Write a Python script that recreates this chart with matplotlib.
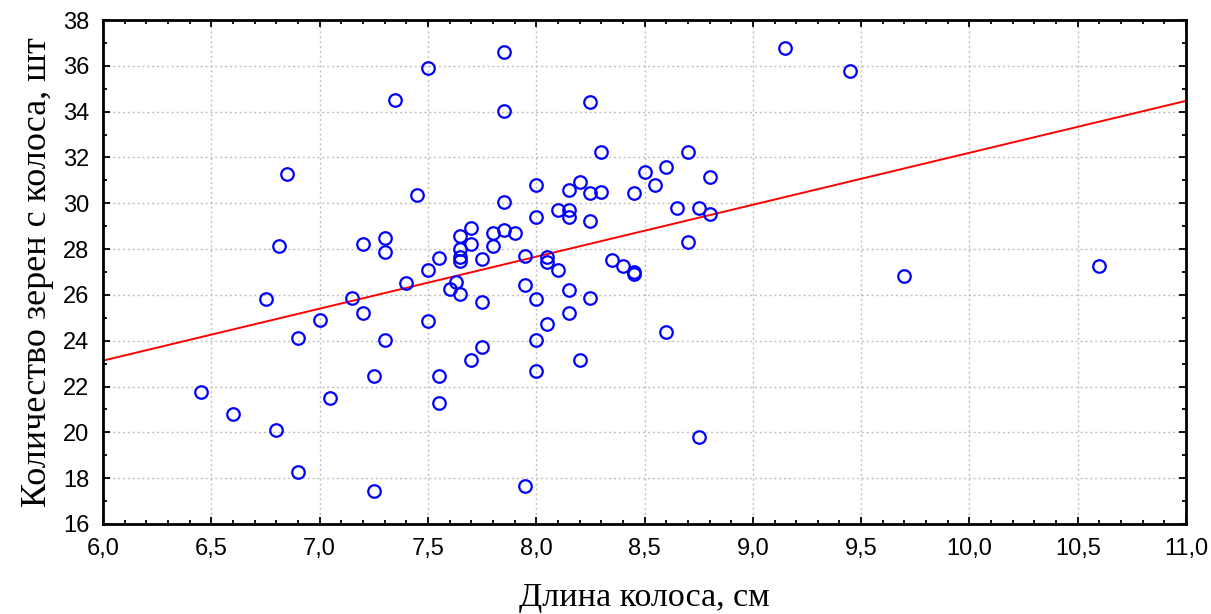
import numpy as np
import matplotlib
matplotlib.use("Agg")
import matplotlib.pyplot as plt
from matplotlib.ticker import MultipleLocator

# spike length (cm) and grains per spike
dlina = [7.50, 7.35, 6.85, 7.45, 6.81, 7.20, 7.30, 7.30, 7.65, 7.70,
         7.70, 7.65, 7.65, 7.65, 7.55, 7.75, 7.50, 7.40, 7.63, 7.60,
         7.65, 7.75, 6.75, 7.15, 7.20, 7.00, 7.50, 6.90, 7.30, 7.75,
         7.70, 7.25, 7.55, 6.45, 7.05, 7.55, 6.60, 6.80, 6.90, 7.25,
         7.85, 7.85, 9.15, 8.25, 8.30, 8.70, 8.50, 8.60, 8.80, 8.20,
         8.00, 8.55, 8.15, 8.25, 8.30, 8.45, 7.85, 8.00, 8.10, 8.15,
         8.15, 8.25, 8.65, 8.75, 8.80, 8.70, 7.85, 7.80, 7.90, 7.80,
         7.95, 8.05, 8.05, 8.10, 8.35, 8.40, 8.45, 8.45, 7.95, 8.15,
         8.00, 8.25, 8.15, 8.05, 8.60, 8.00, 8.20, 8.00, 8.75, 7.95,
         9.45, 9.70, 10.60]
zerna = [35.92, 34.51, 31.29, 30.35, 28.15, 28.23, 28.49, 27.89, 28.58, 28.92,
         28.21, 28.00, 27.65, 27.50, 27.63, 27.55, 27.10, 26.51, 26.55, 26.25,
         26.06, 25.71, 25.80, 25.88, 25.20, 24.92, 24.84, 24.13, 24.05, 23.72,
         23.18, 22.48, 22.48, 21.78, 21.52, 21.26, 20.82, 20.12, 18.29, 17.42,
         36.62, 34.02, 36.79, 34.44, 32.25, 32.25, 31.38, 31.57, 31.13, 30.93,
         30.79, 30.79, 30.60, 30.44, 30.51, 30.44, 30.07, 29.39, 29.72, 29.72,
         29.39, 29.22, 29.81, 29.81, 29.55, 28.33, 28.84, 28.69, 28.69, 28.15,
         27.72, 27.65, 27.43, 27.10, 27.54, 27.28, 27.02, 26.90, 26.45, 26.23,
         25.80, 25.88, 25.19, 24.75, 24.40, 24.05, 23.18, 22.66, 19.78, 17.68,
         35.78, 26.84, 27.26]

x_ticks = [6.0, 6.5, 7.0, 7.5, 8.0, 8.5, 9.0, 9.5, 10.0, 10.5, 11.0]

x = np.array(dlina)
y = np.array(zerna)

plt.rcParams['font.family'] = ['Liberation Sans Narrow', 'Liberation Sans', 'DejaVu Sans']
serif = ['Liberation Serif', 'DejaVu Serif']

fig = plt.figure(figsize=(12.11, 6.14), dpi=100)
ax = fig.add_axes([0.0851, 0.1466, 0.8943, 0.8208])

# linear fit
k, b = np.polyfit(x, y, 1)
xl = np.array([x_ticks[0], x_ticks[-1]])
ax.plot(xl, k * xl + b, color='red', lw=1.4, zorder=2)

ax.plot(x, y, 'o', ms=9, mfc='none', mec='#0000ff', mew=1.6, zorder=3)

ax.set_xlim(x_ticks[0], x_ticks[-1])
ax.set_ylim(16, 38)
ax.set_xticks(x_ticks)
ax.set_xticklabels([f'{v:.1f}'.replace('.', ',') for v in x_ticks])
ax.xaxis.set_minor_locator(MultipleLocator(0.1))
ax.yaxis.set_major_locator(MultipleLocator(2))
ax.yaxis.set_minor_locator(MultipleLocator(1))

ax.tick_params(which='both', direction='in', top=True, right=True,
               labelsize=17, width=1.3)
ax.tick_params(which='major', length=5, pad=10)
ax.tick_params(which='minor', length=3)
for s in ax.spines.values():
    s.set_linewidth(2)

ax.grid(True, which='major', color='#c0c0c0', ls=(0, (1.5, 2)), lw=1)
ax.set_axisbelow(True)

ax.set_xlabel('Длина колоса, см', family=serif, fontsize=24.5, labelpad=16)
ax.set_ylabel('Количество зерен с колоса, шт', family=serif, fontsize=26,
              labelpad=6)

fig.savefig('out.png', dpi=100)
